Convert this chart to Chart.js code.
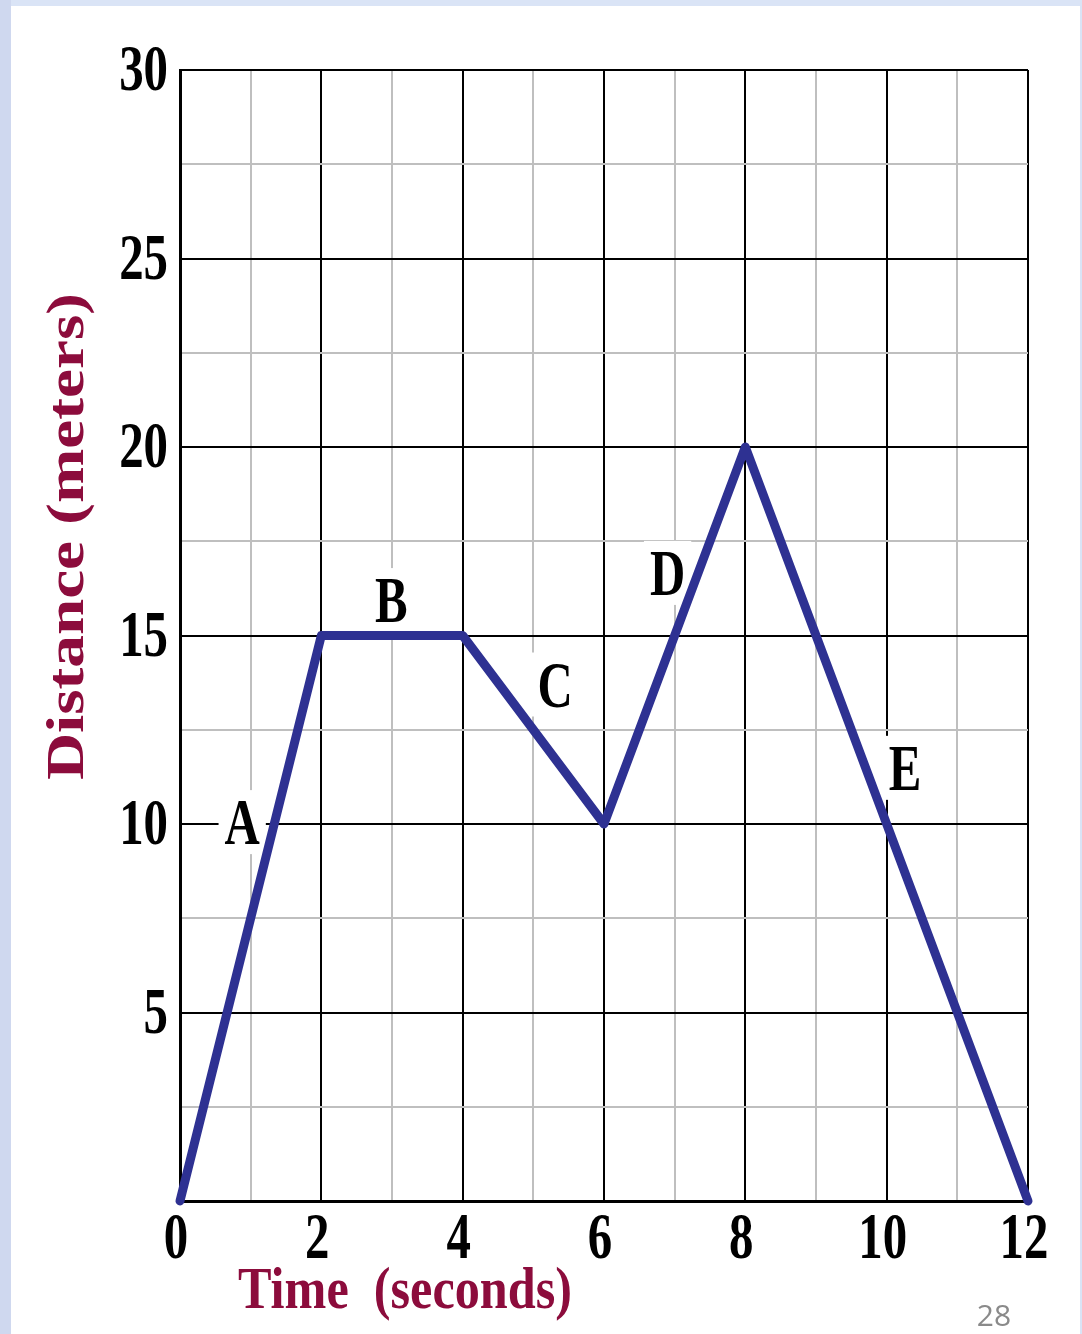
<!DOCTYPE html>
<html>
<head>
<meta charset="utf-8">
<script src="https://cdn.jsdelivr.net/npm/chart.js@4/dist/chart.umd.min.js"></script>
<style>
    html, body { margin: 0; padding: 0; background: #ffffff; }
    canvas { display: block; }
</style>
</head>
<body>
<canvas id="graph" width="1082" height="1334"></canvas>
<script>
(function () {
    "use strict";

    // Data
    const times = [0, 2, 4, 6, 8, 12];
    const distances = [0, 15, 15, 10, 20, 0];

    // Axis tick labels
    const xTickLabels = [0, 2, 4, 6, 8, 10, 12];
    const yTickLabels = [5, 10, 15, 20, 25, 30];

    // Segment letters and where they sit (in data units)
    const segmentLabels = ["A", "B", "C", "D", "E"];
    const labelTimes = [0.88, 2.99, 5.31, 6.9, 10.26];
    const labelDistances = [10.05, 15.94, 13.7, 16.66, 11.49];

    const xTitle = "Time  (seconds)";
    const yTitle = "Distance (meters)";
    const pageNumber = "28";

    const serif = '"Liberation Serif", "Times New Roman", serif';
    const titleColor = "#8c0c3c";
    const squeeze = 0.74;

    // draw text squeezed horizontally, like the stretched slide picture
    function squeezedText(ctx, text, x, y, font, color, sx, align) {
        ctx.save();
        ctx.translate(x, y);
        ctx.scale(sx, 1);
        ctx.font = font;
        ctx.fillStyle = color;
        ctx.textAlign = align;
        ctx.textBaseline = "alphabetic";
        ctx.fillText(text, 0, 0);
        ctx.restore();
    }

    const slidePlugin = {
        id: "slide",
        beforeDraw(chart) {
            const ctx = chart.ctx;
            ctx.save();
            ctx.fillStyle = "#dae4f6";
            ctx.fillRect(0, 0, chart.width, chart.height);
            ctx.fillStyle = "#cfd8ef";
            ctx.fillRect(0, 0, 11, chart.height);
            ctx.fillStyle = "#ffffff";
            ctx.fillRect(11, 6, 1069, chart.height - 6);
            ctx.restore();
        },
        beforeDatasetsDraw(chart) {
            const ctx = chart.ctx;
            const xs = chart.scales.x;
            const ys = chart.scales.y;
            const font = "bold 66px " + serif;

            // segment letters on white boxes
            segmentLabels.forEach((txt, i) => {
                const px = xs.getPixelForValue(labelTimes[i]);
                const py = ys.getPixelForValue(labelDistances[i]);
                ctx.save();
                ctx.font = font;
                const w = ctx.measureText(txt).width * squeeze;
                ctx.fillStyle = "#ffffff";
                ctx.fillRect(px - w / 2 - 6, py - 32, w + 12, 64);
                ctx.restore();
                squeezedText(ctx, txt, px, py + 22, font, "#000000", squeeze, "center");
            });
        },
        afterDraw(chart) {
            const ctx = chart.ctx;
            const xs = chart.scales.x;
            const ys = chart.scales.y;
            const font = "bold 66px " + serif;

            xTickLabels.forEach((v) => {
                squeezedText(ctx, String(v), xs.getPixelForValue(v) - 4, 1258, font, "#000000", squeeze, "center");
            });
            yTickLabels.forEach((v) => {
                squeezedText(ctx, String(v), 168, ys.getPixelForValue(v) + 20, font, "#000000", squeeze, "right");
            });

            // x title, fitted to its width in the picture
            ctx.save();
            ctx.font = "bold 60px " + serif;
            const xw = ctx.measureText(xTitle).width;
            ctx.restore();
            squeezedText(ctx, xTitle, 238, 1308, "bold 60px " + serif, titleColor, 334 / xw, "left");

            // y title, rotated
            ctx.save();
            ctx.font = "bold 53px " + serif;
            const yw = ctx.measureText(yTitle).width;
            ctx.translate(83, 780);
            ctx.rotate(-Math.PI / 2);
            ctx.scale(487 / yw, 1);
            ctx.fillStyle = titleColor;
            ctx.textAlign = "left";
            ctx.textBaseline = "alphabetic";
            ctx.fillText(yTitle, 0, 0);
            ctx.restore();

            // slide number
            ctx.save();
            ctx.font = '30px "Open Sans", "Liberation Sans", sans-serif';
            ctx.fillStyle = "#8a8a8a";
            ctx.textAlign = "center";
            ctx.fillText(pageNumber, 994, 1326);
            ctx.restore();
        },
    };

    const ctx = document.getElementById("graph").getContext("2d");

    new Chart(ctx, {
        type: "line",
        data: {
            datasets: [
                {
                    data: times.map((t, i) => ({ x: t, y: distances[i] })),
                    borderColor: "#2e3192",
                    borderWidth: 9,
                    borderJoinStyle: "round",
                    borderCapStyle: "round",
                    pointRadius: 0,
                    tension: 0,
                    fill: false,
                    clip: false,
                },
            ],
        },
        options: {
            responsive: false,
            animation: false,
            layout: {
                padding: { left: 180, top: 70, right: 54, bottom: 133 },
            },
            plugins: {
                legend: { display: false },
                tooltip: { enabled: false },
            },
            scales: {
                x: {
                    type: "linear",
                    min: 0,
                    max: 12,
                    ticks: { stepSize: 1, display: false },
                    grid: {
                        drawTicks: false,
                        lineWidth: 2,
                        color: (c) => (c.tick && c.tick.value % 2 === 0 ? "#000000" : "#bfbfbf"),
                    },
                    border: { color: "#000000", width: 3 },
                },
                y: {
                    type: "linear",
                    min: 0,
                    max: 30,
                    ticks: { stepSize: 2.5, display: false },
                    grid: {
                        drawTicks: false,
                        lineWidth: 2,
                        color: (c) => (c.tick && c.tick.value % 5 === 0 ? "#000000" : "#bfbfbf"),
                    },
                    border: { color: "#000000", width: 3 },
                },
            },
        },
        plugins: [slidePlugin],
    });
})();
</script>
</body>
</html>
